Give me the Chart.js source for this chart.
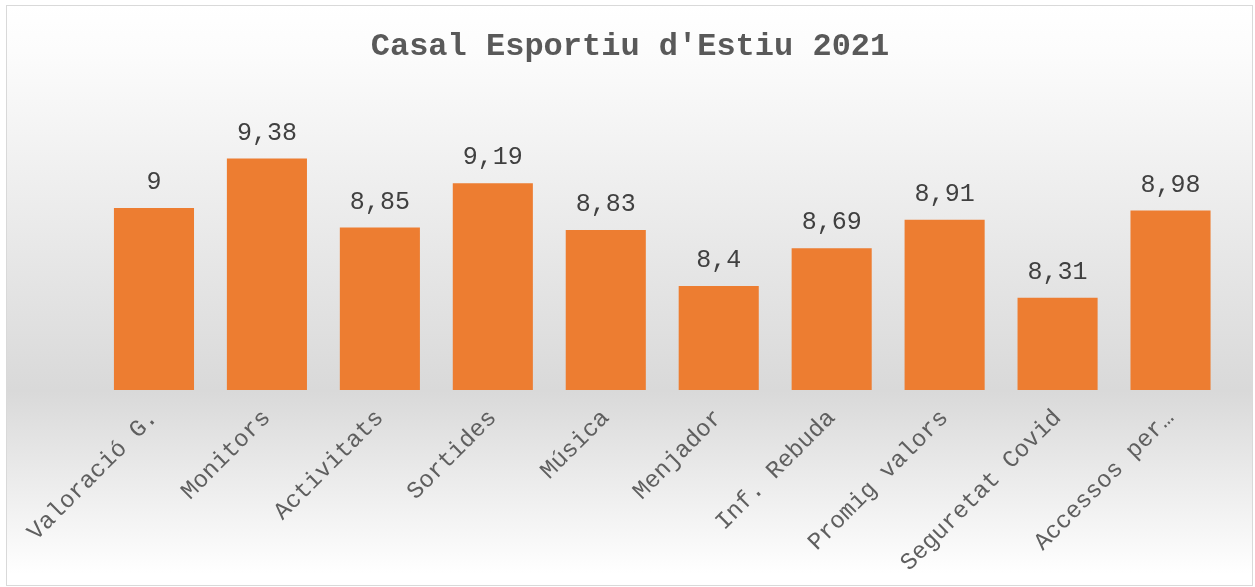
<!DOCTYPE html>
<html>
<head>
<meta charset="utf-8">
<script src="https://cdn.jsdelivr.net/npm/chart.js@4"></script>
<style>
  html, body { margin: 0; padding: 0; background: #ffffff; }
  #wrap { width: 1255px; height: 587px; position: relative; }
</style>
</head>
<body>
<div id="wrap"><canvas id="c" width="1255" height="587"></canvas></div>
<script>
const chartTitle = "Casal Esportiu d'Estiu 2021";
const categories = ["Valoració G.", "Monitors", "Activitats", "Sortides", "Música", "Menjador", "Inf. Rebuda", "Promig valors", "Seguretat Covid", "Accessos per…"];
const values = [9, 9.38, 8.85, 9.19, 8.83, 8.4, 8.69, 8.91, 8.31, 8.98];
const axisMin = 7.6;
const axisMax = 9.6;

const bgPlugin = {
  id: 'bg',
  beforeDraw(chart) {
    const ctx = chart.ctx;
    const x0 = 6, y0 = 5, x1 = 1253, y1 = 586;
    ctx.save();
    const g = ctx.createLinearGradient(0, y0, 0, y1);
    g.addColorStop(0, '#ffffff');
    g.addColorStop(0.08, '#fcfcfc');
    g.addColorStop(0.664, '#d9d9d9');
    g.addColorStop(0.98, '#ffffff');
    g.addColorStop(1, '#ffffff');
    ctx.fillStyle = g;
    ctx.fillRect(x0, y0, x1 - x0, y1 - y0);
    ctx.strokeStyle = '#d9d9d9';
    ctx.lineWidth = 1;
    ctx.strokeRect(x0 + 0.5, y0 + 0.5, x1 - x0 - 1, y1 - y0 - 1);
    ctx.restore();
  }
};

const labelPlugin = {
  id: 'valLabels',
  afterDatasetsDraw(chart) {
    const ctx = chart.ctx;
    const meta = chart.getDatasetMeta(0);
    ctx.save();
    ctx.font = '25px "Liberation Mono", "Courier New", monospace';
    ctx.fillStyle = '#404040';
    ctx.textAlign = 'center';
    ctx.textBaseline = 'alphabetic';
    meta.data.forEach((bar, i) => {
      const txt = String(values[i]).replace('.', ',');
      ctx.fillText(txt, bar.x, bar.y - 19);
    });
    ctx.restore();
  }
};

new Chart(document.getElementById('c'), {
  type: 'bar',
  data: {
    labels: categories,
    datasets: [{
      data: values,
      backgroundColor: '#ED7D31',
      borderWidth: 0,
      categoryPercentage: 0.709,
      barPercentage: 1.0
    }]
  },
  options: {
    responsive: false,
    animation: false,
    devicePixelRatio: 1,
    layout: { padding: { left: 33, right: 28, top: 0, bottom: 0 } },
    plugins: {
      legend: { display: false },
      tooltip: { enabled: false },
      title: {
        display: true,
        text: chartTitle,
        color: '#595959',
        font: { family: '"Liberation Mono", "Courier New", monospace', size: 32, weight: 'bold', lineHeight: 1.2 },
        padding: { top: 28, bottom: 63.6 }
      }
    },
    scales: {
      x: {
        grid: { display: false, drawTicks: false },
        border: { display: false },
        ticks: {
          color: '#5f5f5f',
          font: { family: '"Liberation Mono", "Courier New", monospace', size: 24 },
          minRotation: 45,
          maxRotation: 45,
          autoSkip: false,
          padding: 14
        },
        afterFit(scale) { scale.height = 197; }
      },
      y: {
        display: true,
        min: axisMin,
        max: axisMax,
        grid: { display: false, drawTicks: false },
        border: { display: false },
        ticks: { display: false },
        afterFit(scale) { scale.width = 64.5; }
      }
    }
  },
  plugins: [bgPlugin, labelPlugin]
});
</script>
</body>
</html>
